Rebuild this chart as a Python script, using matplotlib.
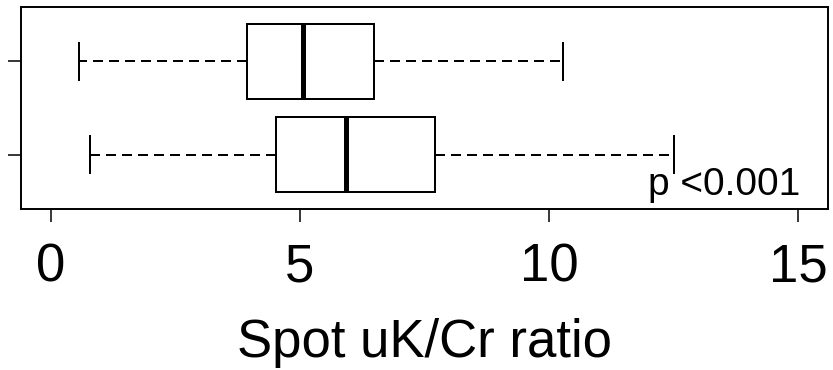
import matplotlib
matplotlib.use("Agg")
import matplotlib.pyplot as plt

plt.rcParams['font.family'] = ['Liberation Sans', 'DejaVu Sans']

# five-number summaries (bottom group first, like R)
groups = ["1", "2"]
whislo = [0.78, 0.56]
q1 = [4.51, 3.93]
med = [5.93, 5.07]
q3 = [7.71, 6.48]
whishi = [12.5, 10.28]
xticks = [0, 5, 10, 15]
p_text = "p <0.001"

stats = []
for i in range(len(groups)):
    stats.append({"label": groups[i], "whislo": whislo[i], "q1": q1[i],
                  "med": med[i], "q3": q3[i], "whishi": whishi[i], "fliers": []})

fig = plt.figure(figsize=(8.33, 3.70), dpi=100)
ax = fig.add_axes([21/833, (370-209)/370, 807/833, 202/370])

lw = 1.44
ax.bxp(stats, positions=[1, 2], widths=0.8, orientation='horizontal',
       showfliers=False, patch_artist=True,
       boxprops=dict(facecolor="white", edgecolor="black", linewidth=lw),
       medianprops=dict(color="black", linewidth=3.6, solid_capstyle="butt"),
       whiskerprops=dict(color="black", linewidth=lw, linestyle=(0, (5, 3))),
       capprops=dict(color="black", linewidth=lw), capwidths=0.4)

ax.set_xlim(-0.6, 15.6)
ax.set_ylim(0.42, 2.58)
ax.set_xticks(xticks)
ax.set_xticklabels([str(t) for t in xticks])
ax.set_yticks([1, 2])
ax.set_yticklabels([])
ax.tick_params(axis="x", length=9.4, width=1.1, pad=15, labelsize=38)
ax.tick_params(axis="y", length=9.4, width=1.1)
for s in ax.spines.values():
    s.set_linewidth(1.4)

ax.set_xlabel("Spot uK/Cr ratio", fontsize=38)
ax.xaxis.set_label_coords(0.5, -0.733)
ax.xaxis.label.set_va("baseline")

ax.text(0.965, 0.069, p_text, transform=ax.transAxes, ha="right",
        va="baseline", fontsize=28)

fig.savefig("out.png", dpi=100)
